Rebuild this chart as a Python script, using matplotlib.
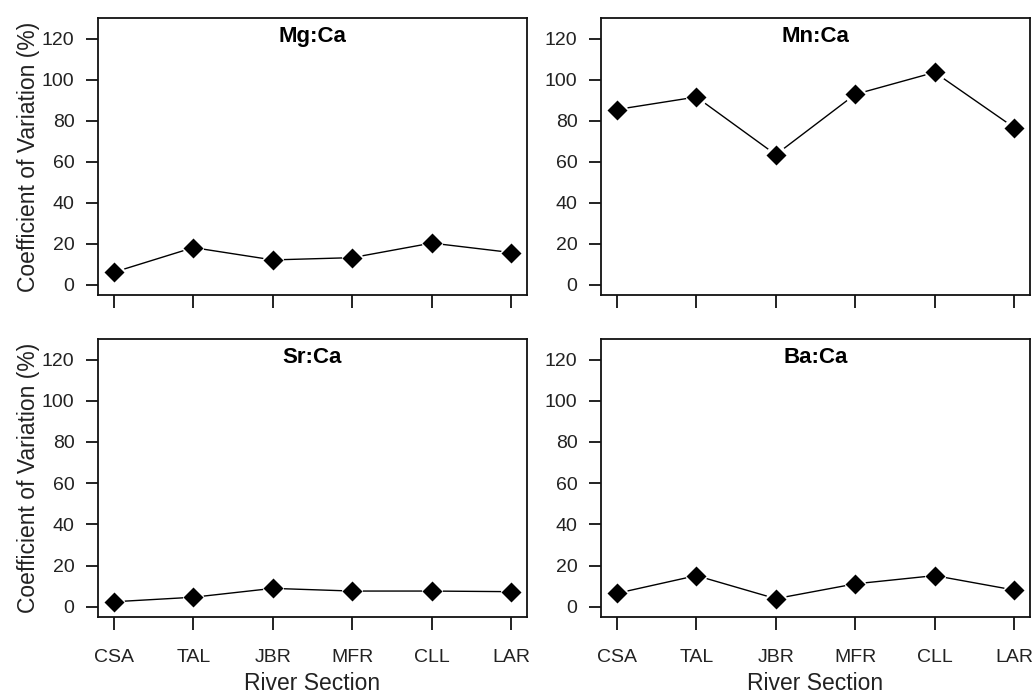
import matplotlib
matplotlib.use("Agg")
import matplotlib.pyplot as plt

sections = ["CSA", "TAL", "JBR", "MFR", "CLL", "LAR"]
mg_ca = [6.1, 18.1, 12.1, 13.2, 20.3, 15.7]
mn_ca = [85.4, 91.5, 63.4, 92.8, 103.5, 76.6]
sr_ca = [2.4, 4.6, 8.9, 7.6, 7.6, 7.3]
ba_ca = [6.5, 15.1, 3.9, 11.1, 15.1, 8.1]
titles = ["Mg:Ca", "Mn:Ca", "Sr:Ca", "Ba:Ca"]
yticks = [0, 20, 40, 60, 80, 100, 120]

plt.rcParams['font.family'] = ['Liberation Sans', 'DejaVu Sans']

W, H = 1034, 696
fig = plt.figure(figsize=(W / 100, H / 100), dpi=100)

lefts = [98, 601]
rights = [527, 1030]
tops = [18, 339]
bottoms = [295, 617]

series = [mg_ca, mn_ca, sr_ca, ba_ca]
txtcol = '#222222'
for i, vals in enumerate(series):
    r, c = divmod(i, 2)
    l, rr = lefts[c], rights[c]
    t, b = tops[r], bottoms[r]
    ax = fig.add_axes([l / W, 1 - b / H, (rr - l) / W, (b - t) / H])
    x = list(range(1, len(sections) + 1))
    ax.plot(x, vals, color='black', lw=1.0, zorder=2)
    ax.plot(x, vals, 'o', color='white', ms=15, mec='none', zorder=3)
    ax.plot(x, vals, 'D', color='black', ms=10, mec='none', zorder=4)
    ax.set_xlim(0.8, 6.2)
    ax.set_ylim(-5, 130)
    ax.set_yticks(yticks)
    ax.set_xticks(x)
    for s in ax.spines.values():
        s.set_linewidth(1.3)
        s.set_color('#111111')
    ax.tick_params(axis='both', length=9, width=1.3, color='#111111',
                   labelsize=14, labelcolor=txtcol)
    ax.tick_params(axis='y', pad=8)
    ax.tick_params(axis='x', pad=14)
    if r == 1:
        ax.set_xticklabels(sections)
        ax.set_xlabel("River Section", fontsize=16.5, color=txtcol, labelpad=4)
    else:
        ax.set_xticklabels([])
    if c == 0:
        ax.set_ylabel("Coefficient of Variation (%)", fontsize=16.5, color=txtcol, labelpad=1)
    ax.text(0.5, 0.97, titles[i], transform=ax.transAxes, ha='center', va='top',
            fontsize=16, fontweight='bold', color='black')

fig.savefig("out.png", dpi=100)
